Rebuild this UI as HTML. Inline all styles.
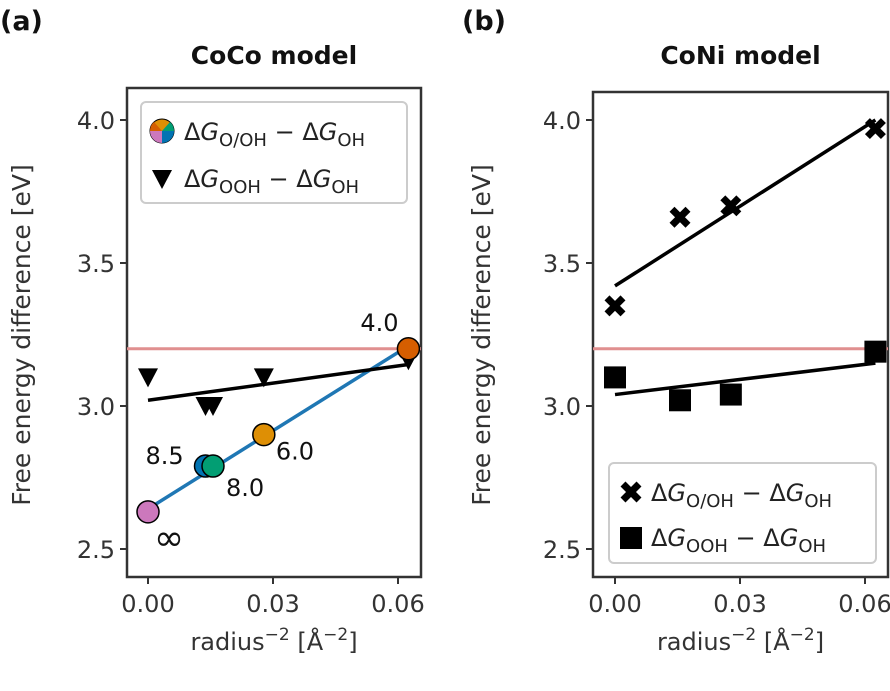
<!DOCTYPE html>
<html><head><meta charset="utf-8"><style>
body{margin:0;background:#fff;}
svg{font-family:"DejaVu Sans","Liberation Sans",sans-serif;}
</style></head><body>
<svg id="c" width="890" height="686" viewBox="0 0 890 686" xmlns="http://www.w3.org/2000/svg"></svg>
<script>
const xCats=[0,0.0138,0.0156,0.0278,0.0625];
const cocoOOH=[3.10,3.00,3.00,3.10,3.16];
const cocoO=[2.63,2.79,2.79,2.90,3.20];
const cocoLabels=["∞","8.5","8.0","6.0","4.0"];
const cocoColors=["#cc78bc","#0173b2","#029e73","#de8f05","#d55e00"];
const cocoOFit=[2.64,3.21];
const cocoOOHFit=[3.02,3.145];
const coniX=[0,0.0156,0.0278,0.0625];
const coniO=[3.35,3.66,3.70,3.97];
const coniOOH=[3.10,3.02,3.04,3.19];
const coniOFit=[3.42,4.0];
const coniOOHFit=[3.04,3.15];
const yTicks=[2.5,3.0,3.5,4.0];
const xTicks=[0,0.03,0.06];
const xTickLabels=["0.00","0.03","0.06"];
const refLine=3.2;

const svg=document.getElementById('c');
const NS="http://www.w3.org/2000/svg";
function mk(t,a,name,txt){const e=document.createElementNS(NS,t);for(const k in a)e.setAttribute(k,a[k]);


if(txt!==undefined)e.textContent=txt;svg.appendChild(e);return e;}
const Y=v=>120+(4.0-v)*286;

function panel(x0,box,title,tag,tagX){
  const X=v=>x0+v/0.03*125;
  mk('text',{x:tagX,y:30,'font-size':27,'font-weight':'bold',fill:'#111'},'panel-tag',tag);
  mk('text',{x:(box[0]+box[1])/2,y:64,'font-size':25,'font-weight':'bold','text-anchor':'middle',fill:'#111'},'panel-title',title);
  mk('rect',{x:box[0],y:box[2],width:box[1]-box[0],height:577-box[2],fill:'none',stroke:'#333','stroke-width':2.5},'axes-frame');
  yTicks.forEach(t=>{mk('line',{x1:box[0]-7,x2:box[0],y1:Y(t),y2:Y(t),stroke:'#333','stroke-width':2},'y-tick');
    mk('text',{x:box[0]-12,y:Y(t)+9,'font-size':24,'text-anchor':'end',fill:'#333'},'y-tick-label',t.toFixed(1));});
  xTicks.forEach((t,i)=>{mk('line',{x1:X(t),x2:X(t),y1:577,y2:584,stroke:'#333','stroke-width':2},'x-tick');
    mk('text',{x:X(t),y:612,'font-size':24,'text-anchor':'middle',fill:'#333'},'x-tick-label',xTickLabels[i]);});
  const xl=mk('text',{x:(box[0]+box[1])/2,y:650,'font-size':24,'text-anchor':'middle',fill:'#333'},'x-axis-title');
  xl.innerHTML='radius<tspan dy="-10" font-size="17">−2</tspan><tspan dy="10"> [Å</tspan><tspan dy="-10" font-size="17">−2</tspan><tspan dy="10">]</tspan>';
  mk('line',{x1:box[0],x2:box[1],y1:Y(refLine),y2:Y(refLine),stroke:'#e08f8f','stroke-width':3},'reference-line');
  return X;
}
function legendText(x,y,sub,name){const t=mk('text',{x:x,y:y,'font-size':24,fill:'#222'},name);
  t.innerHTML='Δ<tspan font-style="italic">G</tspan><tspan dy="6" font-size="18">'+sub+'</tspan><tspan dy="-6"> − Δ</tspan><tspan font-style="italic">G</tspan><tspan dy="6" font-size="18">OH</tspan>';}
function tri(x,y,n){mk('path',{d:`M${x-10},${y-9} L${x+10},${y-9} L${x},${y+10} Z`,fill:'#000'},n);}
function cross(x,y,n){mk('path',{d:`M${x-8},${y-8}L${x+8},${y+8}M${x+8},${y-8}L${x-8},${y+8}`,stroke:'#000','stroke-width':7},n);}

// Panel a
let X=panel(148,[127,421,88],'CoCo model','(a)',0);
mk('line',{x1:X(0),x2:X(xCats[4]),y1:Y(cocoOFit[0]),y2:Y(cocoOFit[1]),stroke:'#1f77b4','stroke-width':3.5},'fit-line-o-oh');
mk('line',{x1:X(0),x2:X(xCats[4]),y1:Y(cocoOOHFit[0]),y2:Y(cocoOOHFit[1]),stroke:'#000','stroke-width':3.5},'fit-line-ooh');
xCats.forEach((v,i)=>tri(X(v),Y(cocoOOH[i]),'triangle-marker'));
xCats.forEach((v,i)=>mk('circle',{cx:X(v),cy:Y(cocoO[i]),r:11,fill:cocoColors[i],stroke:'#000','stroke-width':1.5},'circle-marker'));
const lo=[[6,38],[-60,-2],[13,30],[12,25],[-48,-18]];
xCats.forEach((v,i)=>mk('text',{x:X(v)+lo[i][0],y:Y(cocoO[i])+lo[i][1],'font-size':i==0?36:24,fill:'#111'},'point-label',cocoLabels[i]));
mk('rect',{x:141,y:102,width:266,height:101,rx:5,fill:'#fff',stroke:'#ccc','stroke-width':2},'legend-box');
mk('circle',{cx:162,cy:131,r:12,fill:'#de8f05',stroke:'#000','stroke-width':1},'legend-pie');
mk('path',{d:'M162,131 L174,131 A12,12 0 0 1 162,143 Z',fill:'#0173b2'},'legend-pie-slice');
mk('path',{d:'M162,131 L162,143 A12,12 0 0 1 150,131 Z',fill:'#cc78bc'},'legend-pie-slice');
mk('path',{d:'M162,131 L150,131 A12,12 0 0 1 154,122 Z',fill:'#d55e00'},'legend-pie-slice');
mk('path',{d:'M162,131 L170,122 A12,12 0 0 1 174,131 Z',fill:'#029e73'},'legend-pie-slice');
legendText(184,140,'O/OH','legend-entry-o-oh');
tri(162,179,'legend-triangle');
legendText(184,187,'OOH','legend-entry-ooh');

// Panel b
X=panel(615,[593,888,92],'CoNi model','(b)',462);
mk('line',{x1:X(0),x2:X(coniX[3]),y1:Y(coniOFit[0]),y2:Y(coniOFit[1]),stroke:'#000','stroke-width':3.5},'fit-line-o-oh');
mk('line',{x1:X(0),x2:X(coniX[3]),y1:Y(coniOOHFit[0]),y2:Y(coniOOHFit[1]),stroke:'#000','stroke-width':3.5},'fit-line-ooh');
coniX.forEach((v,i)=>cross(X(v),Y(coniO[i]),'cross-marker'));
coniX.forEach((v,i)=>mk('rect',{x:X(v)-11,y:Y(coniOOH[i])-11,width:22,height:22,fill:'#000'},'square-marker'));
mk('rect',{x:609,y:463,width:267,height:100,rx:5,fill:'#fff',stroke:'#ccc','stroke-width':2},'legend-box');
cross(631,492,'legend-cross');
legendText(651,501,'O/OH','legend-entry-o-oh');
mk('rect',{x:620,y:527,width:22,height:22,fill:'#000'},'legend-square');
legendText(651,546,'OOH','legend-entry-ooh');

mk('text',{x:0,y:0,'font-size':25,'text-anchor':'middle',fill:'#333',transform:'translate(30,335) rotate(-90)'},'y-axis-title','Free energy difference [eV]');
mk('text',{x:0,y:0,'font-size':25,'text-anchor':'middle',fill:'#333',transform:'translate(490,335) rotate(-90)'},'y-axis-title-b','Free energy difference [eV]');
</script>
</body></html>
